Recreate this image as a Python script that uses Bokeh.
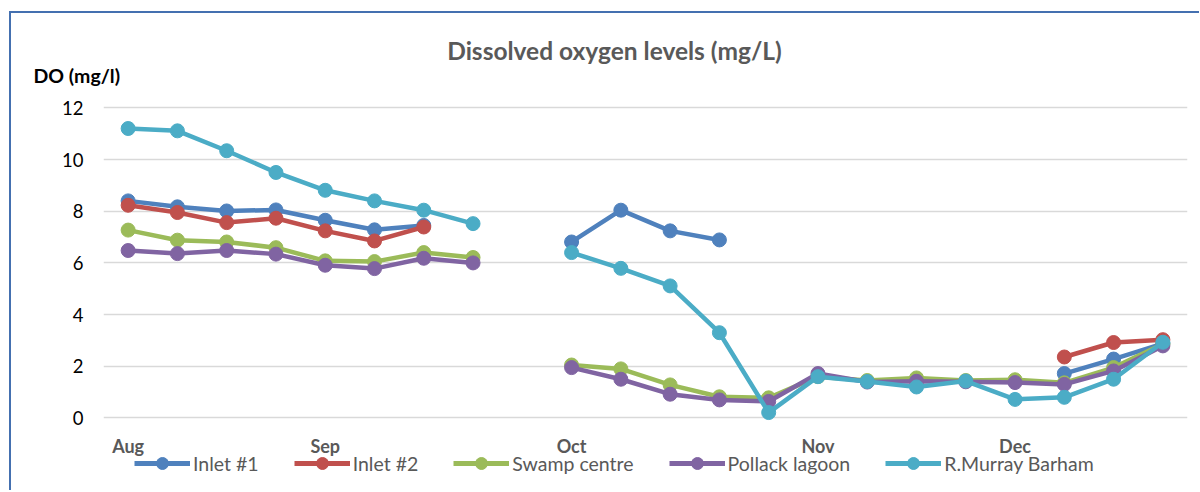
from bokeh.plotting import figure
from bokeh.layouts import column
from bokeh.models import FixedTicker, Legend, LegendItem, Label, Range1d
from bokeh.embed import file_html
from bokeh.resources import INLINE

nan = float("nan")

positions = list(range(22))
month_ticks = [0, 4, 9, 14, 18]
month_labels = ["Aug", "Sep", "Oct", "Nov", "Dec"]
y_ticks = [0, 2, 4, 6, 8, 10, 12]

series_names = ["Inlet #1", "Inlet #2", "Swamp centre", "Pollack lagoon", "R.Murray Barham"]
series_colors = ["#4F81BD", "#C0504D", "#9BBB59", "#8064A2", "#4BACC6"]

inlet1 = [8.40, 8.17, 8.01, 8.05, 7.65, 7.28, 7.45, nan, nan, 6.81, 8.04, 7.24, 6.89,
          nan, nan, nan, nan, nan, nan, 1.72, 2.28, 2.88]
inlet2 = [8.23, 7.95, 7.56, 7.73, 7.24, 6.85, 7.39, nan, nan, nan, nan, nan, nan,
          nan, nan, nan, nan, nan, nan, 2.36, 2.92, 3.03]
swamp = [7.27, 6.88, 6.81, 6.59, 6.08, 6.05, 6.40, 6.21, nan, 2.05, 1.90, 1.28, 0.82,
         0.78, 1.60, 1.45, 1.55, 1.45, 1.48, 1.36, 1.95, 2.86]
pollack = [6.48, 6.36, 6.48, 6.34, 5.91, 5.78, 6.18, 6.00, nan, 1.95, 1.50, 0.92, 0.70,
           0.64, 1.72, 1.39, 1.42, 1.40, 1.37, 1.30, 1.82, 2.79]
barham = [11.20, 11.11, 10.34, 9.50, 8.81, 8.40, 8.04, 7.52, nan, 6.40, 5.79, 5.11, 3.30,
          0.21, 1.60, 1.41, 1.20, 1.43, 0.72, 0.80, 1.50, 2.93]

all_series = [inlet1, inlet2, swamp, pollack, barham]

title_text = "Dissolved oxygen levels (mg/L)"
y_title_text = "DO (mg/l)"

FONT = "Lato"
W = 1188


def bare(fig):
    fig.outline_line_color = None
    fig.background_fill_alpha = 0
    fig.border_fill_alpha = 0
    fig.axis.visible = False
    fig.grid.visible = False


# ---- header (title + y-axis title) ----
HH = 80
header = figure(width=W, height=HH, x_range=Range1d(0, W), y_range=Range1d(0, HH),
                output_backend="svg", toolbar_location=None,
                min_border_left=0, min_border_right=0, min_border_top=0, min_border_bottom=0)
bare(header)
header.frame_align = False
header.add_layout(Label(x=603, y=43, x_units="screen", y_units="screen", text=title_text,
                        text_align="center", text_baseline="middle", text_font=FONT,
                        text_font_style="bold", text_font_size="24.5px", text_color="#595959"))
header.add_layout(Label(x=22, y=18, x_units="screen", y_units="screen", text=y_title_text,
                        text_align="left", text_baseline="middle", text_font=FONT,
                        text_font_style="bold", text_font_size="19.5px", text_color="#000000"))

# ---- main chart ----
p = figure(width=W, height=368, x_range=(-0.5, 21.5), y_range=(-0.6, 12.4),
           output_backend="svg", toolbar_location=None,
           min_border_left=92, min_border_right=12, min_border_top=4, min_border_bottom=28)
p.frame_align = False
p.outline_line_color = None
p.background_fill_color = "white"
p.border_fill_alpha = 0

yt = FixedTicker(ticks=y_ticks)
p.yaxis.ticker = yt
p.ygrid.ticker = yt
p.ygrid.grid_line_color = "#D9D9D9"
p.ygrid.grid_line_width = 1.6
p.xgrid.visible = False

p.yaxis.axis_line_color = None
p.yaxis.major_tick_line_color = None
p.yaxis.minor_tick_line_color = None
p.yaxis.major_tick_out = 0
p.yaxis.major_tick_in = 0
p.yaxis.major_label_standoff = 20
p.yaxis.major_label_text_font = FONT
p.yaxis.major_label_text_font_size = "18.5px"
p.yaxis.major_label_text_color = "#000000"

xt = FixedTicker(ticks=month_ticks)
p.xaxis.ticker = xt
p.xaxis.major_label_overrides = {t: l for t, l in zip(month_ticks, month_labels)}
p.xaxis.axis_line_color = None
p.xaxis.major_tick_line_color = None
p.xaxis.minor_tick_line_color = None
p.xaxis.major_tick_out = 0
p.xaxis.major_tick_in = 0
p.xaxis.major_label_standoff = 1
p.xaxis.major_label_text_font = FONT
p.xaxis.major_label_text_font_style = "bold"
p.xaxis.major_label_text_font_size = "18px"
p.xaxis.major_label_text_color = "#595959"

for name, color, vals in zip(series_names, series_colors, all_series):
    p.line(positions, vals, line_color=color, line_width=4.5, line_join="round")
    p.scatter(positions, vals, size=14, fill_color=color, line_color=color)

# ---- legend strip ----
LH = 42
leg_fig = figure(width=W, height=LH, x_range=Range1d(0, W), y_range=Range1d(0, LH),
                 output_backend="svg", toolbar_location=None,
                 min_border_left=0, min_border_right=0, min_border_top=0, min_border_bottom=0)
bare(leg_fig)
leg_fig.frame_align = False
leg_fig.styles = {"margin-top": "-13px"}
items = []
for name, color in zip(series_names, series_colors):
    ln = leg_fig.line([nan], [nan], line_color=color, line_width=5)
    sc = leg_fig.scatter([nan], [nan], size=14, fill_color=color, line_color=color)
    items.append(LegendItem(label=name, renderers=[ln, sc]))
legend = Legend(items=items, orientation="horizontal", location=(123, 12),
                glyph_width=56, glyph_height=30, label_height=30, label_standoff=3,
                spacing=35, padding=0, margin=0,
                label_text_font=FONT, label_text_font_size="19.5px",
                label_text_color="#595959",
                border_line_color=None, background_fill_alpha=0)
leg_fig.add_layout(legend, "center")

layout = column(header, p, leg_fig, spacing=0,
                styles={"margin-left": "9px", "margin-top": "11px",
                        "border-top": "2px solid #4470B0",
                        "border-left": "2px solid #4470B0"})

open("out.html", "w").write(file_html(layout, INLINE))
